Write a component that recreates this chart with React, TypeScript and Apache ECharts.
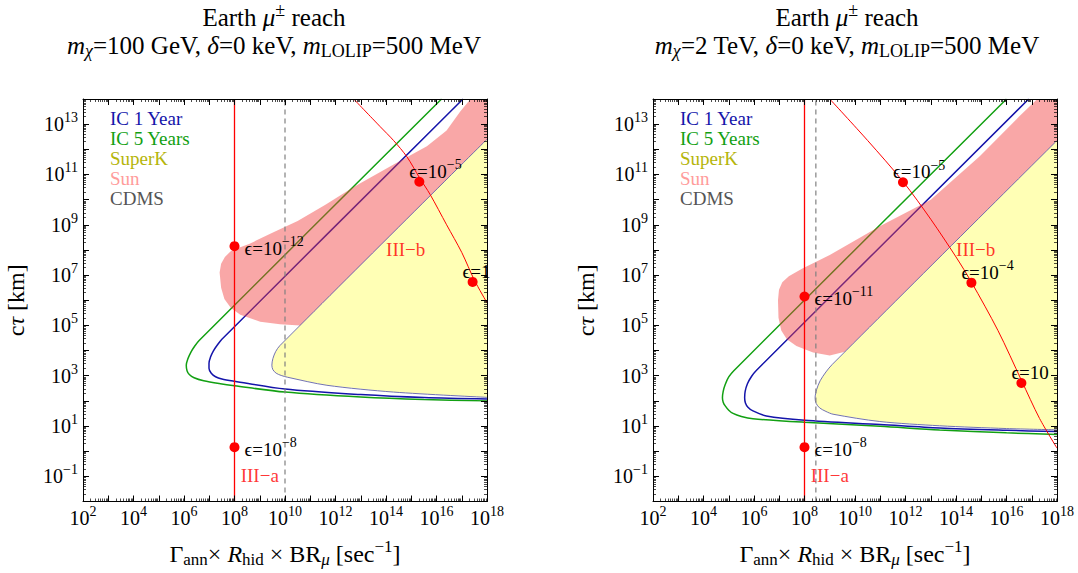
import { useEffect, useRef } from 'react';
import * as echarts from 'echarts';

const FONT = "'Liberation Serif', 'Times New Roman', Times, 'DejaVu Serif', serif";

type Pt = [number, number];

// ---------- axes (all values are log10 exponents) ----------
const X_RANGE: Pt = [2, 18];
const Y_RANGE: Pt = [-2, 14];
const xLabelExponents = [2, 4, 6, 8, 10, 12, 14, 16, 18];
const yLabelExponents = [-1, 1, 3, 5, 7, 9, 11, 13];

// ---------- texts ----------
const titleTop = '{r|Earth }{i|μ}{sp|±}{r| reach}';
const leftSubtitle = '{i|m}{sbi|χ}{r|=100 GeV, }{i|δ}{r|=0 keV, }{i|m}{sb|LOLIP}{r|=500 MeV}';
const rightSubtitle = '{i|m}{sbi|χ}{r|=2 TeV, }{i|δ}{r|=0 keV, }{i|m}{sb|LOLIP}{r|=500 MeV}';
const xAxisTitle = '{g|Γ}{sb|ann}{g|× }{i|R}{sb|hid}{g| × BR}{sbi|μ}{g| [sec}{sp|−1}{g|]}';
const yAxisTitle = '{g|c}{i|τ}{g| [km]}';
const legendNames = ['IC 1 Year', 'IC 5 Years', 'SuperK', 'Sun', 'CDMS'];
const regionLabelNames = ['III−a', 'III−b'];
const regionLabelAt: Pt[] = [[9.0, -0.97], [14.78, 8.02]];

// ---------- left panel: m_chi = 100 GeV ----------
const leftIC1: Pt[] = [[17.05, 14], [7.5, 4.45], [7.32, 4.22], [7.16, 3.98], [7.05, 3.74], [6.99, 3.5], [6.99, 3.3], [7.08, 3.1], [7.25, 2.96], [7.5, 2.87], [8, 2.78], [10, 2.47], [13, 2.25], [15.5, 2.13], [18, 2.07]];
const leftIC5: Pt[] = [[16.2, 14], [6.6, 4.4], [6.42, 4.17], [6.27, 3.93], [6.15, 3.66], [6.09, 3.42], [6.12, 3.2], [6.21, 3.05], [6.4, 2.92], [6.78, 2.8], [7.44, 2.68], [8, 2.6], [10, 2.35], [13, 2.15], [15.5, 2.05], [18, 2.0]];
const leftSuperK: Pt[] = [[18, 12.4], [9.8, 4.2], [9.63, 3.96], [9.52, 3.68], [9.48, 3.42], [9.52, 3.24], [9.65, 3.1], [9.85, 3.01], [10.1, 2.94], [11.66, 2.62], [14.3, 2.35], [18, 2.14]];
const leftSun: Pt[] = [[7.41, 7.1], [7.47, 7.45], [7.62, 7.72], [7.85, 7.95], [8.2, 8.1], [8.6, 8.25], [9.5, 8.68], [10.5, 9.15], [11.6, 9.8], [12.72, 10.5], [14.3, 11.4], [15.62, 12.12], [16.4, 12.75], [16.94, 13.5], [17.35, 14], [18, 14], [18, 12.4], [10.6, 5.0], [9.8, 5.05], [9.02, 5.15], [8.23, 5.42], [7.85, 5.7], [7.6, 6.05], [7.47, 6.5]];
const leftIIIaX = 8;
const leftCdmsX = 10;
const leftIIIb: Pt[] = [[12.72, 14], [13.77, 12.9], [14.3, 12.35], [14.83, 11.7], [15.32, 10.88], [15.75, 10.2], [16.4, 9.0], [17.0, 7.9], [17.5, 6.8], [18, 5.9]];
const leftDots: Pt[] = [[8, 8.15], [8, 0.16], [15.32, 10.71], [17.43, 6.73]];
const leftDotBase = ['ϵ=10', 'ϵ=10', 'ϵ=10', 'ϵ=1'];
const leftDotExp = ['−12', '−8', '−5', ''];

// ---------- right panel: m_chi = 2 TeV ----------
const rightIC1: Pt[] = [[16.88, 14], [6.1, 3.22], [5.9, 2.97], [5.74, 2.68], [5.65, 2.38], [5.63, 2.12], [5.66, 1.92], [5.76, 1.75], [5.96, 1.6], [6.49, 1.4], [8, 1.23], [11, 1.06], [13.35, 0.92], [16, 0.83], [18, 0.78]];
const rightIC5: Pt[] = [[16, 14], [5.2, 3.2], [5.0, 2.95], [4.86, 2.65], [4.78, 2.38], [4.75, 2.12], [4.78, 1.95], [4.86, 1.8], [5.0, 1.63], [5.17, 1.5], [5.5, 1.38], [5.96, 1.29], [8, 1.15], [11, 0.99], [13.35, 0.84], [16, 0.73], [18, 0.66]];
const rightSuperK: Pt[] = [[18, 12.35], [9.1, 3.45], [8.85, 3.15], [8.62, 2.8], [8.48, 2.45], [8.42, 2.12], [8.46, 1.9], [8.6, 1.72], [8.85, 1.58], [9.13, 1.47], [10.98, 1.18], [13.35, 1.01], [16, 0.9], [18, 0.85]];
const rightSun: Pt[] = [[6.95, 6.0], [6.99, 6.42], [7.12, 6.72], [7.38, 6.95], [7.9, 7.25], [9.0, 7.8], [11.0, 8.95], [13.0, 10.0], [14.94, 11.72], [16.5, 13.3], [17.22, 14], [18, 14], [18, 12.35], [9.6, 3.95], [9.0, 3.8], [8.34, 3.92], [7.68, 4.18], [7.3, 4.45], [7.08, 4.8], [6.97, 5.3]];
const rightIIIaX = 8;
const rightCdmsX = 8.45;
const rightIIIb: Pt[] = [[9.0, 14], [10.5, 12.35], [11.9, 10.72], [13.0, 9.22], [14.0, 7.72], [14.61, 6.72], [15.66, 4.8], [16.59, 2.82], [17.31, 1.3], [18, 0.12]];
const rightDots: Pt[] = [[8, 6.15], [8, 0.16], [11.9, 10.69], [14.61, 6.7], [16.59, 2.71]];
const rightDotBase = ['ϵ=10', 'ϵ=10', 'ϵ=10', 'ϵ=10', 'ϵ=10'];
const rightDotExp = ['−11', '−8', '−5', '−4', ''];

// ---------- styles ----------
const C = {
  ic1: '#1414aa',
  ic5: '#12a012',
  superKFill: '#ffffb5',
  superKEdge: '#6262aa',
  superKText: '#b5b50a',
  sunFill: 'rgba(242,60,60,0.45)',
  sunText: '#ff9b9b',
  cdms: '#808080',
  cdmsText: '#555555',
  red: '#ff0000',
};
const legendColors = [C.ic1, C.ic5, C.superKText, C.sunText, C.cdmsText];

const GRIDS = [
  { left: 83, top: 99, width: 404, height: 404 },
  { left: 653, top: 99, width: 404, height: 404 },
];

const tickRich = {
  b: { fontSize: 20, fontFamily: FONT, color: '#000' },
  s: { fontSize: 14, fontFamily: FONT, color: '#000', padding: [0, 0, 13, 0] },
};
function makeTextRich(size: number, small: number) {
  return {
    r: { fontSize: size, fontFamily: FONT, fill: '#000', color: '#000' },
    g: { fontSize: size, fontFamily: FONT, fill: '#000', color: '#000' },
    i: { fontSize: size, fontFamily: FONT, fontStyle: 'italic', fill: '#000', color: '#000' },
    sp: { fontSize: small, fontFamily: FONT, fill: '#000', color: '#000', padding: [0, 0, 15, 0] },
    sb: { fontSize: small, fontFamily: FONT, fill: '#000', color: '#000', padding: [12, 0, 0, 0] },
    sbi: { fontSize: small, fontFamily: FONT, fontStyle: 'italic', fill: '#000', color: '#000', padding: [12, 0, 0, 0] },
  };
}
const axisNameRich = makeTextRich(24, 17);
const titleRich = makeTextRich(25, 18);

function intRange(a: number, b: number) {
  const out: number[] = [];
  for (let e = a; e <= b; e++) out.push(e);
  return out;
}
function logMinor(a: number, b: number) {
  const out: number[] = [];
  for (let e = a; e < b; e++) for (let k = 2; k <= 9; k++) out.push(e + Math.log10(k));
  return out;
}
function powLabel(v: number) {
  const e = Math.round(v);
  return `{b|10}{s|${e < 0 ? '−' + Math.abs(e) : e}}`;
}

function axisSet(kind: 'x' | 'y', g: number) {
  const isX = kind === 'x';
  const [min, max] = isX ? X_RANGE : Y_RANGE;
  const major = intRange(min, max);
  const minor = logMinor(min, max);
  const base: any = {
    type: 'value', gridIndex: g, min, max, z: 10, silent: true,
    splitLine: { show: false },
    axisLine: { show: false, onZero: false },
    axisTick: { show: false },
    axisLabel: { show: false },
  };
  const frame = { show: true, onZero: false, lineStyle: { color: '#000', width: 1 } };
  const majorTick = { show: true, inside: true, length: 6, customValues: major, lineStyle: { color: '#000', width: 1 } };
  const minorTick = { show: true, inside: true, length: 3, customValues: minor, lineStyle: { color: '#000', width: 0.7 } };
  const p1 = isX ? 'bottom' : 'left';
  const p2 = isX ? 'top' : 'right';
  const main: any = {
    ...base, position: p1, axisLine: frame, axisTick: majorTick,
    axisLabel: {
      show: true, customValues: isX ? xLabelExponents : yLabelExponents,
      margin: isX ? 3 : 5, formatter: powLabel, rich: tickRich,
    },
    name: isX ? xAxisTitle : yAxisTitle,
    nameLocation: 'middle',
    nameGap: isX ? 36 : 55,
    nameTextStyle: { fontFamily: FONT, fontSize: 24, color: '#000', rich: axisNameRich },
  };
  return [
    main,
    { ...base, position: p1, axisTick: minorTick },
    { ...base, position: p2, axisLine: frame, axisTick: majorTick },
    { ...base, position: p2, axisTick: minorTick },
  ];
}

function polygonSeries(name: string, g: number, pts: Pt[], fill: string, z: number) {
  return {
    type: 'custom', name, xAxisIndex: g * 4, yAxisIndex: g * 4, z, silent: true,
    data: pts,
    renderItem: (params: any, api: any) => {
      if (params.dataIndex !== 0) return null;
      return { type: 'polygon', shape: { points: pts.map((p) => api.coord(p)) }, style: { fill } };
    },
  };
}

function lineSeries(name: string, g: number, pts: Pt[], color: string, width: number, z: number, smooth: number, dashed = false) {
  return {
    type: 'line', name, xAxisIndex: g * 4, yAxisIndex: g * 4, z, silent: true,
    data: pts, showSymbol: false, symbol: 'none', smooth, clip: true,
    lineStyle: { color, width, type: dashed ? [5, 4] : 'solid' },
  };
}

function panelSeries(
  g: number, ic1: Pt[], ic5: Pt[], superK: Pt[], sun: Pt[], iiiaX: number, cdmsX: number,
  iiib: Pt[], dots: Pt[], dotBase: string[], dotExp: string[],
) {
  const s: any[] = [];
  s.push(polygonSeries('SuperK', g, superK, C.superKFill, 1));
  s.push(lineSeries('IC 5 Years', g, ic5, C.ic5, 1.5, 2, 0.3));
  s.push(lineSeries('IC 1 Year', g, ic1, C.ic1, 1.5, 2, 0.3));
  s.push(polygonSeries('Sun', g, sun, C.sunFill, 3));
  s.push(lineSeries('SuperK edge', g, superK, C.superKEdge, 0.9, 4, 0.3));
  s.push(lineSeries('CDMS', g, [[cdmsX, Y_RANGE[0]], [cdmsX, Y_RANGE[1]]], C.cdms, 1.2, 5, 0, true));
  s.push(lineSeries('III-a', g, [[iiiaX, Y_RANGE[0]], [iiiaX, Y_RANGE[1]]], C.red, 1.3, 5, 0));
  s.push(lineSeries('III-b', g, iiib, C.red, 1, 5, 0.3));
  s.push({
    type: 'scatter', name: 'epsilon', xAxisIndex: g * 4, yAxisIndex: g * 4, z: 6, silent: true,
    symbolSize: 10, itemStyle: { color: C.red, opacity: 1 },
    data: dots.map((p, i) => {
      const right = p[0] === iiiaX;
      return {
        value: p,
        label: {
          show: true, position: 'inside', align: 'left', verticalAlign: 'middle',
          offset: right ? [10, 2] : [-10, -10.5],
          formatter: dotExp[i] ? `{e|${dotBase[i]}}{s|${dotExp[i]}}` : `{e|${dotBase[i]}}`,
          rich: {
            e: { fontSize: 19, fontFamily: FONT, color: '#000' },
            s: { fontSize: 14, fontFamily: FONT, color: '#000', padding: [0, 0, 13, 0] },
          },
        },
      };
    }),
  });
  s.push({
    type: 'scatter', name: 'regions', xAxisIndex: g * 4, yAxisIndex: g * 4, z: 7, silent: true,
    symbolSize: 1, itemStyle: { color: 'rgba(0,0,0,0)' },
    data: regionLabelAt.map((p, i) => ({
      value: p,
      label: {
        show: true, position: 'inside', formatter: regionLabelNames[i],
        fontSize: 19, fontFamily: FONT, color: C.red,
      },
    })),
  });
  return s;
}

function buildOption() {
  const graphic: any[] = [];
  const titleCenters = [274, 847];
  const subtitles = [leftSubtitle, rightSubtitle];
  titleCenters.forEach((cx, i) => {
    graphic.push({
      type: 'text', x: cx, y: 17, z: 100, silent: true,
      style: { text: titleTop, rich: titleRich, align: 'center', verticalAlign: 'middle', fontFamily: FONT, fontSize: 25, fill: '#000' },
    });
    graphic.push({
      type: 'text', x: cx, y: 45, z: 100, silent: true,
      style: { text: subtitles[i], rich: titleRich, align: 'center', verticalAlign: 'middle', fontFamily: FONT, fontSize: 25, fill: '#000' },
    });
  });
  const legendLeft = [110, 680];
  legendLeft.forEach((lx) => {
    legendNames.forEach((name, k) => {
      graphic.push({
        type: 'text', x: lx, y: 118 + k * 20, z: 100, silent: true,
        style: { text: name, fontFamily: FONT, fontSize: 19, fill: legendColors[k], align: 'left', verticalAlign: 'middle' },
      });
    });
  });

  return {
    animation: false,
    backgroundColor: '#ffffff',
    grid: GRIDS,
    xAxis: [...axisSet('x', 0), ...axisSet('x', 1)],
    yAxis: [...axisSet('y', 0), ...axisSet('y', 1)],
    series: [
      ...panelSeries(0, leftIC1, leftIC5, leftSuperK, leftSun, leftIIIaX, leftCdmsX, leftIIIb, leftDots, leftDotBase, leftDotExp),
      ...panelSeries(1, rightIC1, rightIC5, rightSuperK, rightSun, rightIIIaX, rightCdmsX, rightIIIb, rightDots, rightDotBase, rightDotExp),
    ],
    graphic,
  };
}

export default function App() {
  const ref = useRef<HTMLDivElement>(null);
  useEffect(() => {
    const chart = echarts.init(ref.current!, undefined, { renderer: 'svg' });
    chart.setOption(buildOption() as any);
    return () => chart.dispose();
  }, []);
  return (
    <div
      ref={ref}
      style={{ position: 'absolute', left: 0, top: 0, width: 1078, height: 573, background: '#fff' }}
    />
  );
}
